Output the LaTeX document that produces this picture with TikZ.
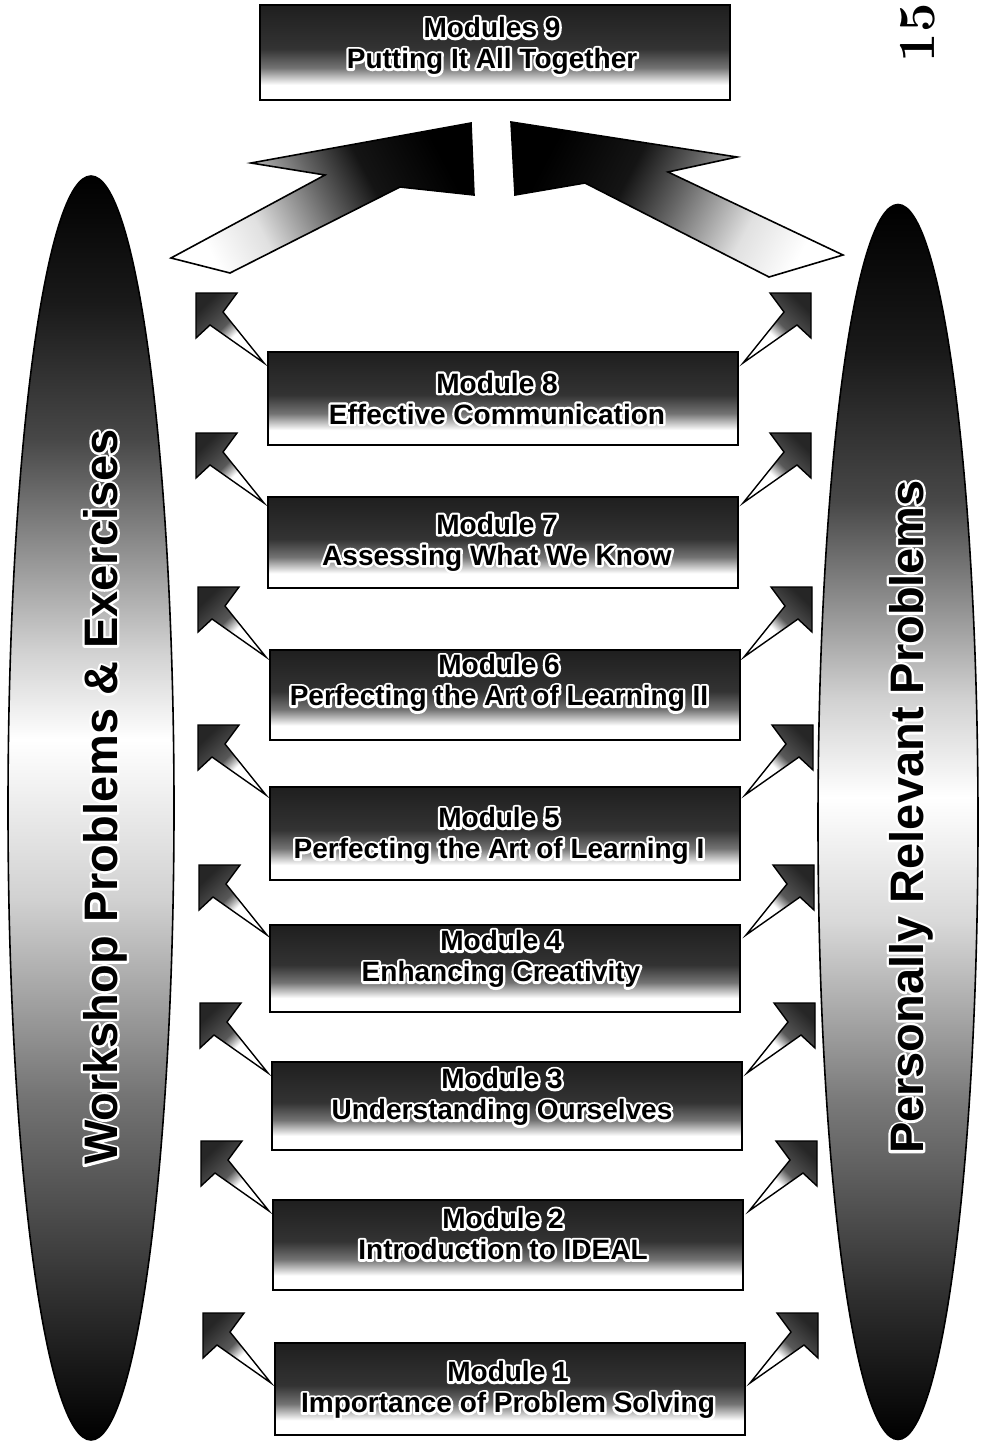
\documentclass[tikz,border=0pt]{standalone}
\usepackage{fontspec}
\setsansfont{Liberation Sans}
\usetikzlibrary{fit,calc,shapes.geometric}
\pgfdeclareverticalshading{boxsh}{100bp}{color(0bp)=(white); color(25bp)=(white); color(33bp)=(white); color(42bp)=(black!55); color(52bp)=(black!80); color(75bp)=(black!88); color(100bp)=(black!88)}
\pgfdeclareverticalshading{ellLsh}{100bp}{color(0bp)=(black); color(25bp)=(black); color(30.5bp)=(black!82); color(38.5bp)=(black!55); color(46.4bp)=(black!18); color(52.7bp)=(white); color(56.2bp)=(black!18); color(64.6bp)=(black!72); color(70bp)=(black!90); color(75bp)=(black); color(100bp)=(black)}
\pgfdeclareverticalshading{ellRsh}{100bp}{color(0bp)=(black); color(25bp)=(black); color(30.7bp)=(black!82); color(38.8bp)=(black!52); color(46bp)=(black!15); color(51bp)=(white); color(55bp)=(black!18); color(63bp)=(black!72); color(69bp)=(black!90); color(75bp)=(black); color(100bp)=(black)}
\pgfdeclareverticalshading{bigsh}{100bp}{color(0bp)=(white); color(25bp)=(white); color(36bp)=(black!12); color(50bp)=(black!60); color(60bp)=(black!92); color(75bp)=(black); color(100bp)=(black)}
\pgfdeclareverticalshading{smallsh}{100bp}{color(0bp)=(white); color(25bp)=(white); color(44bp)=(white); color(54bp)=(black!65); color(75bp)=(black!85); color(100bp)=(black!85)}
% white outline drawn by stroking the glyphs (text render mode 1), black text on top
\newcommand\halotxt[1]{\leavevmode
  \rlap{\color{white}\special{pdf:literal direct 1 Tr 2.4 w 1 j 1 J}#1\special{pdf:literal direct 0 Tr 0.4 w 0 j 0 J}}%
  #1}
\begin{document}
\begin{tikzpicture}[x=0.5pt,y=-0.5pt,
  modbox/.style={draw=black,line width=1pt,shading=boxsh,inner sep=0pt},
  modtext/.style={text=black,font=\sffamily\bfseries\fontsize{14pt}{15.5pt}\selectfont,align=center,inner sep=0pt},
  elltext/.style={text=black,font=\sffamily\bfseries\fontsize{23.5pt}{28pt}\selectfont,rotate=90,anchor=base,inner sep=0pt},
  bigarrow/.style={draw=black,line width=0.8pt,shading=bigsh,line join=miter},
  smallL/.style={draw=black,line width=0.7pt,shading=smallsh,shading angle=44},
  smallR/.style={draw=black,line width=0.7pt,shading=smallsh,shading angle=-44}]
\useasboundingbox (0,0) rectangle (986,1445);
\fill[white] (0,0) rectangle (986,1445);

% side ellipses
\node[ellipse,draw=black,line width=0.8pt,shading=ellLsh,minimum width=83pt,minimum height=632pt,inner sep=0pt] (ellL) at (91,808) {};
\node[ellipse,draw=black,line width=0.8pt,shading=ellRsh,minimum width=80pt,minimum height=617.5pt,inner sep=0pt] (ellR) at (898,822) {};
\node[elltext] (ellLt) at (117,797) {\halotxt{Workshop Problems \& Exercises}};
\node[elltext] (ellRt) at (923,817) {\halotxt{Personally Relevant Problems}};

% page number
\node[rotate=90,font=\bfseries\fontsize{26pt}{28pt}\selectfont,inner sep=0pt] (pg) at (918,33) {15};

% big arrows
\draw[bigarrow,shading angle=-62] (471,123) -- (474,195) -- (400,187) -- (230,273) -- (171,258) -- (325,175) -- (251,163) -- cycle;
\draw[bigarrow,shading angle=62] (511,122) -- (737,157) -- (668,172) -- (843,255) -- (769,277) -- (585,183) -- (515,195) -- cycle;

% small arrows
\foreach \n/\xl/\xr/\y in {8/196/811/293, 7/196/811/433, 6/198/812/587, 5/198/813/725, 4/199/814/865, 3/200/815/1003, 2/201/817/1141, 1/203/818/1313}{
  \coordinate (tl\n) at (\xl,\y);
  \coordinate (tr\n) at (\xr,\y);
  \draw[smallL] (tl\n) -- ++(41,0) -- ++(-14,19) -- ++(41,51) -- ++(-54,-38) -- ++(-14,13) -- cycle;
  \draw[smallR] (tr\n) -- ++(-41,0) -- ++(14,19) -- ++(-41,51) -- ++(54,-38) -- ++(14,13) -- cycle;
}

% module boxes
\node[modbox,fit={(260,5) (730,100)}] (m9) {};
\node[modbox,fit={(268,352) (738,445)}] (m8) {};
\node[modbox,fit={(268,497) (738,588)}] (m7) {};
\node[modbox,fit={(270,650) (740,740)}] (m6) {};
\node[modbox,fit={(270,787) (740,880)}] (m5) {};
\node[modbox,fit={(270,925) (740,1012)}] (m4) {};
\node[modbox,fit={(272,1062) (742,1150)}] (m3) {};
\node[modbox,fit={(273,1200) (743,1290)}] (m2) {};
\node[modbox,fit={(275,1343) (745,1435)}] (m1) {};

\node[modtext] (m9t) at (492,46) {\halotxt{Modules 9}\\\halotxt{Putting It All Together}};
\node[modtext] (m8t) at (497,398.5) {\halotxt{Module 8}\\\halotxt{Effective Communication}};
\node[modtext] (m7t) at (497,542.5) {\halotxt{Module 7}\\\halotxt{Assessing What We Know}};
\node[modtext] (m6t) at (499,683) {\halotxt{Module 6}\\\halotxt{Perfecting the Art of Learning II}};
\node[modtext] (m5t) at (499,836) {\halotxt{Module 5}\\\halotxt{Perfecting the Art of Learning I}};
\node[modtext] (m4t) at (501,959) {\halotxt{Module 4}\\\halotxt{Enhancing Creativity}};
\node[modtext] (m3t) at (502,1097) {\halotxt{Module 3}\\\halotxt{Understanding Ourselves}};
\node[modtext] (m2t) at (503,1234) {\halotxt{Module 2}\\\halotxt{Introduction to IDEAL}};
\node[modtext] (m1t) at (508,1390) {\halotxt{Module 1}\\\halotxt{Importance of Problem Solving}};
\end{tikzpicture}
\end{document}
